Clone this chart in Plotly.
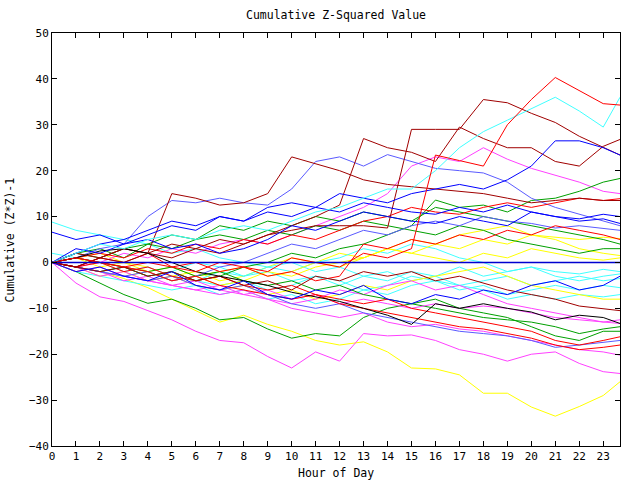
import plotly.graph_objects as go

hours = [0, 1, 2, 3, 4, 5, 6, 7, 8, 9, 10, 11, 12, 13, 14, 15, 16, 17, 18, 19, 20, 21, 22, 23, 23.7]
x_ticks = list(range(0, 24))
y_ticks = [-40, -30, -20, -10, 0, 10, 20, 30, 40, 50]

s_red_top = [0,1,0,-1,0, -1,-2,0,-1,-2, 1,0,-1,2,1, 3,23.4,22.2,21,30, 35.5,40.3,37.5,34.6,34.3]
s_cyan_top = [0,2,4,3,5, 6,5,7,8,7, 9,11,12,14,16, 16,20,25,28.5,31, 33.5,36,33,29.5,36]
s_dred_a = [0,2,1,3,2, 4,3,5,4,6, 7,8,8,8,7.5, 29,29,29,35.5,34.8, 32.5,30.5,27.5,25,23.4]
s_dred_b = [0,-1,1,0,2, 1,3,2,4,6, 8,10,12.5,27,25, 24,22,29.5,27,25, 25,22,21,25.3,26.8]
s_blue_top = [0,2,4,5,7, 9,8,10,9,12, 13,12,15,14,13, 15,16,17,16,18, 21,26.5,26.5,25,23.4]
s_green_top = [0,-1,-2,-1,-3, -2,-4,-3,-1,0, 2,1,3,4,6, 8,13.6,12,12.5,11, 13.5,14,15.5,17.5,18.3]
s_mag_top = [0,-1,0,2,1, 3,2,4,5,4, 6,8,10,12,15, 21,23,22,25,22.5, 20.5,19,17.5,15.5,15]
s_red_14 = [0,1,2,1,3, 2,4,3,5,4, 6,5,7,9,10, 12,11,10.5,12,13, 12,13,14,13.5,13.9]
s_dred_c = [0,-1,1,3,2, 15,14,12.5,13,15, 23,21.5,20,18,17, 16.5,16,15.5,15,14, 13,13.5,14,13.5,13.5]
s_lblue_a = [0,1,3,4,10, 13.5,13,14,13,12.5, 16,22,23,21,23.5, 22,20.5,20,19.5,17.5, 14,12,10.5,9,8]
s_blue_10 = [0,3,2,4,6, 8,7,10,9,11, 10,12,11,13,12, 11,10.5,12,11,12.5, 11,10,9.5,10.5,10]
s_blue_8 = [6.6,5,6,4,5, 3,4,2,3,5, 8,7,9,11,10, 9,8.5,10,9,8, 11,10,9,9.5,8.5]
s_lblue_7 = [0,-1,-2,-3,-2, -4,-3,-1,0,2, 4,3,5,7,6, 8,9,8,10,9, 8.5,7.5,8,7.5,7]
s_yel_5 = [0,-2,-1,-3,-2, -4,-3,-5,-4,-2, -3,-1,0,1,3, 2,4,3,5,4, 6,5.5,5,5.5,5.2]
s_green_3 = [0,2,1,3,4, 3,5,6,5,7, 6,8,7,9,8, 7,6,8,7,5, 4,3,2,3,3]
s_yel_1 = [0,1,-1,0,-2, -1,-3,-2,-1,-3, -2,0,-1,1,3, 2,1,0,2,1, 3,2,1,0.5,1]
s_cyan_m2 = [0,-1,-2,-1,-3, -2,0,-1,-3,-2, -4,-3,-5,-3,-4, -2,-3,-1,-3,-2, -1,-2,-2.5,-1.5,-2]
s_cyan_m3 = [8.8,7,6,5,4, 2,3,1,0,-1, 0,-2,-1,-3,-2, -4,-3,-5,-4,-3, -5,-4,-3,-4,-3.5]
s_cyan_m5 = [0,-2,-3,-4,-5, -6,-5,-7,-6,-8, -7,-9,-8,-6,-7, -5,-4,-6,-5,-7, -6,-5,-6,-5,-5.5]
s_cyan_m7 = [0,1,0,-1,-3, -2,-4,-5,-4,-6, -5,-3,-4,-6,-5, -3,-4,-5,-6,-8, -7,-8,-7,-7.5,-7]
s_yel_m8 = [0,-1,-3,-2,-4, -3,-5,-6,-5,-7, -6,-8,-7,-5,-6, -4,-3,-2,-1,-3, -5,-6,-7,-8,-8]
s_dred_d = [0,-1,-2,-1,-3, -2,-4,-3,-5,-4, -6,-3,-4,-2,-3, -2,-4,-3,-4.5,-6, -7,-8,-9.5,-10,-10.5]
s_black = [0,1,2.5,3,2, 0,-2,-3,-4,-5, -6.5,-7.5,-8.5,-10,-11.5, -13.5,-9,-10,-9,-10, -10.8,-12.5,-11.5,-12,-13.3]
s_mag_m13 = [0,-1,-3,-2,-4, -5,-4,-6,-7,-6, -8,-7,-9,-8,-9, -10,-9,-10,-9.5,-10, -11,-12,-12.5,-13,-13.3]
s_green_low = [0,-2,-4.5,-7,-8.9, -8,-10,-12.5,-12,-14.5, -16.5,-15.5,-16,-12,-10, -9,-10,-11,-12,-12.5, -13,-14,-15.5,-14.5,-14]
s_green_m15 = [0,1,0,-1,-2, -1,-3,-2,-4,-5, -4,-6,-5,-7,-8, -9,-8,-10,-11,-12, -14,-16,-17,-15,-15]
s_red_m16 = [0,-1,0,-2,-1, -3,-4,-3,-5,-6, -5,-7,-8,-9,-8, -10,-11,-12,-13,-14, -15,-17,-18,-17,-16.2]
s_lblue_m17 = [0,-1,-2,-3,-4, -3,-5,-6,-5,-7, -9,-10,-9,-11,-12, -13,-14,-15,-15.5,-16, -17,-18.5,-18,-17.5,-17]
s_red_m18 = [0,1,0,-1,-2, -4,-3,-5,-6,-7, -8,-7,-9,-10,-11, -12,-13,-14,-14.5,-15.5, -16.5,-18,-19,-18.5,-18]
s_mag_m20 = [0,-2,-1,-3,-4, -5,-6,-5,-7,-8, -10,-11,-12,-11,-13, -14,-13.5,-14.5,-15,-16, -17,-18,-19,-19.5,-20.2]
s_mag_low = [0,-4.5,-7.5,-8.5,-10.5, -12.5,-15,-17,-17.5,-20.5, -23,-19.5,-21.5,-15.5,-16, -15.8,-17,-19,-20,-21.5, -20,-19.5,-22,-23.8,-24.2]
s_yel_low = [0,-1,-2,-3.5,-5.5, -8,-10.5,-13,-11.5,-13.5, -15,-17,-18,-17.3,-19.5, -23,-23.2,-24.5,-28.5,-28.5, -31.5,-33.5,-31.4,-29,-26]
s_red_mid = [0,-1,1,0,2, -1,0,-2,-1,-3, -2,-4,-3,4,3, 5,4,6,5,7, 6,8,7,6,5]
s_blue_mid = [0,-2,-1,-3,-4, -2,-5,-6,-4,-7, -8,-6,-7,-5,-8, -9,-7,-8,-6,-7, -5,-4,-6,-5,-3]
s_green_mid = [0,2,3,1,4, 6,5,8,7,9, 8,10,9,11,10, 9,12,11,10,9, 8,7,6,5,4]
s_cyan_mid = [2,1,0,-2,-1, -3,-4,-2,-3,-1, -2,0,1,3,2, 4,3,1,0,-2, -1,-3,-4,-3,-2.5]
s_mag_mid = [0,-1,-2,-4,-3, -5,-6,-7,-6,-8, -9,-8,-6,-7,-5, -4,-6,-5,-7,-9, -10,-11,-12,-13,-12.5]
s_yel_mid = [0,1,2,0,-1, -3,-2,-4,-3,-1, 1,0,2,1,3, 5,4,6,7,8, 6,5,3,2,1.5]
s_zero = [0] * 25

RED, GREEN, BLUE, MAG, CYAN = "#ff0000", "#00a000", "#0000ff", "#ff40ff", "#40ffff"
DRED, YEL, BLACK, LBLUE = "#a00000", "#ffff00", "#000000", "#5a5aff"

series = [
    (s_yel_low, YEL), (s_mag_low, MAG), (s_green_low, GREEN), (s_yel_mid, YEL),
    (s_cyan_m3, CYAN), (s_cyan_m5, CYAN), (s_cyan_m7, CYAN), (s_cyan_m2, CYAN),
    (s_cyan_mid, CYAN), (s_yel_m8, YEL), (s_yel_5, YEL), (s_yel_1, YEL),
    (s_mag_m20, MAG), (s_mag_m13, MAG), (s_mag_mid, MAG), (s_mag_top, MAG),
    (s_green_m15, GREEN), (s_green_3, GREEN), (s_green_mid, GREEN), (s_green_top, GREEN),
    (s_lblue_m17, LBLUE), (s_lblue_7, LBLUE), (s_lblue_a, LBLUE),
    (s_red_m16, RED), (s_red_m18, RED), (s_red_mid, RED), (s_red_14, RED),
    (s_dred_d, DRED), (s_dred_c, DRED), (s_dred_b, DRED), (s_dred_a, DRED),
    (s_black, BLACK), (s_blue_mid, BLUE), (s_blue_8, BLUE), (s_blue_10, BLUE),
    (s_blue_top, BLUE), (s_cyan_top, CYAN), (s_red_top, RED),
]

fig = go.Figure()
for vals, col in series:
    fig.add_trace(go.Scatter(x=hours, y=vals, mode="lines",
                             line=dict(color=col, width=1),
                             hoverinfo="skip", showlegend=False))
fig.add_trace(go.Scatter(x=hours, y=s_zero, mode="lines",
                         line=dict(color="#0000d0", width=1.6),
                         hoverinfo="skip", showlegend=False))

FONT = "DejaVu Sans Mono"
axis_common = dict(ticks="inside", ticklen=5, tickcolor="black", tickwidth=1,
                   showline=True, linecolor="black", linewidth=1, mirror="ticks",
                   showgrid=False, zeroline=False,
                   tickfont=dict(family=FONT, size=11, color="black"))

fig.update_layout(
    width=640, height=480, autosize=False,
    paper_bgcolor="white", plot_bgcolor="white",
    margin=dict(l=52, r=20, t=33, b=34, pad=0),
    title=dict(text="Cumulative Z-Squared Value", x=0.5, xref="paper",
               y=0.969, yanchor="middle",
               font=dict(family=FONT, size=11.5, color="black")),
    xaxis=dict(range=[0, 23.7], tickmode="array", tickvals=x_ticks, **axis_common),
    yaxis=dict(range=[-40, 50], tickmode="array", tickvals=y_ticks, **axis_common),
    annotations=[
        dict(text="Hour of Day", x=0.5, xref="paper", y=-0.065, yref="paper",
             yanchor="middle", showarrow=False,
             font=dict(family=FONT, size=11.5, color="black")),
        dict(text="Cumulative (Z*Z)-1", x=-0.074, xref="paper", y=0.5, yref="paper",
             xanchor="center", yanchor="middle", textangle=-90, showarrow=False,
             font=dict(family=FONT, size=11.5, color="black")),
    ],
)

fig.write_html("out.html",
               config={"displayModeBar": False, "staticPlot": True},
               post_script="document.body.style.margin='0';document.body.style.overflow='hidden';")
